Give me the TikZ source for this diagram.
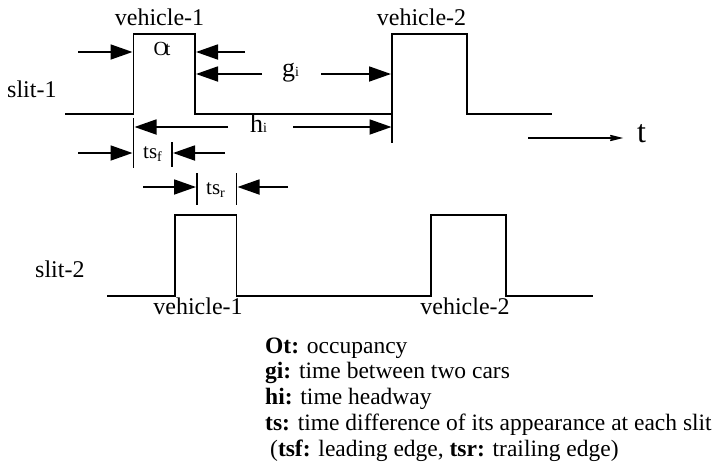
\documentclass[tikz,border=0pt]{standalone}
\usepackage{fontspec}
\setmainfont{Liberation Serif}
\usetikzlibrary{arrows.meta}
\begin{document}
\begin{tikzpicture}[x=1pt,y=-1pt,
  sig/.style={line width=1.8pt, line join=miter},
  dim/.style={line width=1.8pt,-{Triangle[length=22pt,width=15pt]}},
  tickline/.style={line width=1.8pt},
  lbl/.style={font=\fontsize{24}{28}\selectfont, inner sep=0pt, anchor=base},
  leg/.style={font=\fontsize{23.5}{26}\selectfont, inner sep=0pt, anchor=base west},
]
\useasboundingbox (0,0) rectangle (715,471);
\fill[white] (0,0) rectangle (715,471);

% slit-1 signal
\coordinate (a0) at (65,114);
\coordinate (a1) at (133.5,114);
\coordinate (a2) at (133.5,34);
\coordinate (a3) at (195,34);
\coordinate (a4) at (195,114);
\coordinate (a5) at (392,114);
\coordinate (a6) at (392,34);
\coordinate (a7) at (467,34);
\coordinate (a8) at (467,114);
\coordinate (a9) at (552,114);
\draw[sig] (a0) -- (a1) -- (a2) -- (a3) -- (a4) -- (a5) -- (a6) -- (a7) -- (a8) -- (a9);

% slit-2 signal
\coordinate (b0) at (107,296);
\coordinate (b1) at (175,296);
\coordinate (b2) at (175,215);
\coordinate (b3) at (236.5,215);
\coordinate (b4) at (236.5,296);
\coordinate (b5) at (431,296);
\coordinate (b6) at (431,215);
\coordinate (b7) at (506,215);
\coordinate (b8) at (506,296);
\coordinate (b9) at (593,296);
\draw[sig] (b0) -- (b1) -- (b2) -- (b3) -- (b4) -- (b5) -- (b6) -- (b7) -- (b8) -- (b9);

% Ot arrows
\coordinate (o1s) at (78,52);   \coordinate (o1e) at (132.5,52);
\coordinate (o2s) at (245,52);  \coordinate (o2e) at (196,52);
\draw[dim] (o1s) -- (o1e);
\draw[dim] (o2s) -- (o2e);

% gi arrows
\coordinate (g1s) at (262,74);  \coordinate (g1e) at (196,74);
\coordinate (g2s) at (321,74);  \coordinate (g2e) at (391,74);
\draw[dim] (g1s) -- (g1e);
\draw[dim] (g2s) -- (g2e);

% hi arrows and ticks
\coordinate (h1s) at (228,127); \coordinate (h1e) at (134.5,127);
\coordinate (h2s) at (293,127); \coordinate (h2e) at (391.5,127);
\draw[dim] (h1s) -- (h1e);
\draw[dim] (h2s) -- (h2e);
\coordinate (t1a) at (133.5,118); \coordinate (t1b) at (133.5,168);
\coordinate (t2a) at (392,115);   \coordinate (t2b) at (392,143);
\draw[tickline] (t1a) -- (t1b);
\draw[tickline] (t2a) -- (t2b);

% ts_f
\coordinate (f1s) at (78,153);  \coordinate (f1e) at (132.5,153);
\coordinate (f2s) at (225,153); \coordinate (f2e) at (173,153);
\draw[dim] (f1s) -- (f1e);
\draw[dim] (f2s) -- (f2e);
\coordinate (t3a) at (172,142); \coordinate (t3b) at (172,167);
\draw[tickline] (t3a) -- (t3b);

% ts_r
\coordinate (r1s) at (143,187); \coordinate (r1e) at (196,187);
\coordinate (r2s) at (288,187); \coordinate (r2e) at (237.5,187);
\draw[dim] (r1s) -- (r1e);
\draw[dim] (r2s) -- (r2e);
\coordinate (t4a) at (197,173); \coordinate (t4b) at (197,205);
\coordinate (t5a) at (236.5,173); \coordinate (t5b) at (236.5,205);
\draw[tickline] (t4a) -- (t4b);
\draw[tickline] (t5a) -- (t5b);

% time arrow
\coordinate (ts) at (528,138); \coordinate (te) at (623,138);
\draw[line width=1.5pt,-{Stealth[length=30pt,width=15pt,inset=22pt]}] (ts) -- (te);
\node[inner sep=0pt, anchor=base west, font=\fontsize{32}{34}\selectfont] (tlab) at (637,142) {t};

% labels
\node[lbl] (v1top) at (159.5,25) {vehicle-1};
\node[lbl] (v2top) at (421.5,25) {vehicle-2};
\node[lbl] (v1bot) at (198,314) {vehicle-1};
\node[lbl] (v2bot) at (465,314) {vehicle-2};
\node[lbl, anchor=base west] (s1) at (7,97) {slit-1};
\node[lbl, anchor=base west] (s2) at (35,277) {slit-2};

\node[inner sep=0pt, anchor=base, font=\fontsize{20}{22}\selectfont] (ot) at (162,55) {O\kern-3pt t};
\node[inner sep=0pt, anchor=base west] (gi) at (282,76) {\fontsize{26}{28}\selectfont g\fontsize{14}{15}\selectfont i};
\node[inner sep=0pt, anchor=base west] (hi) at (250,132) {\fontsize{26}{28}\selectfont h\fontsize{14}{15}\selectfont i};
\node[inner sep=0pt, anchor=base west] (tsf) at (143,158) {\fontsize{21}{22}\selectfont ts\raisebox{-3pt}{\fontsize{14}{15}\selectfont f}};
\node[inner sep=0pt, anchor=base west] (tsr) at (206,194) {\fontsize{21}{22}\selectfont ts\raisebox{-3pt}{\fontsize{14}{15}\selectfont r}};

% legend
\node[leg] (l1) at (265,353) {\textbf{Ot:} occupancy};
\node[leg] (l2) at (265,378) {\textbf{gi:} time between two cars};
\node[leg] (l3) at (265,404) {\textbf{hi:} time headway};
\node[leg] (l4) at (265,430) {\textbf{ts:} time difference of its appearance at each slit};
\node[leg] (l5) at (270,456) {(\textbf{tsf:} leading edge, \textbf{tsr:} trailing edge)};
\end{tikzpicture}
\end{document}
